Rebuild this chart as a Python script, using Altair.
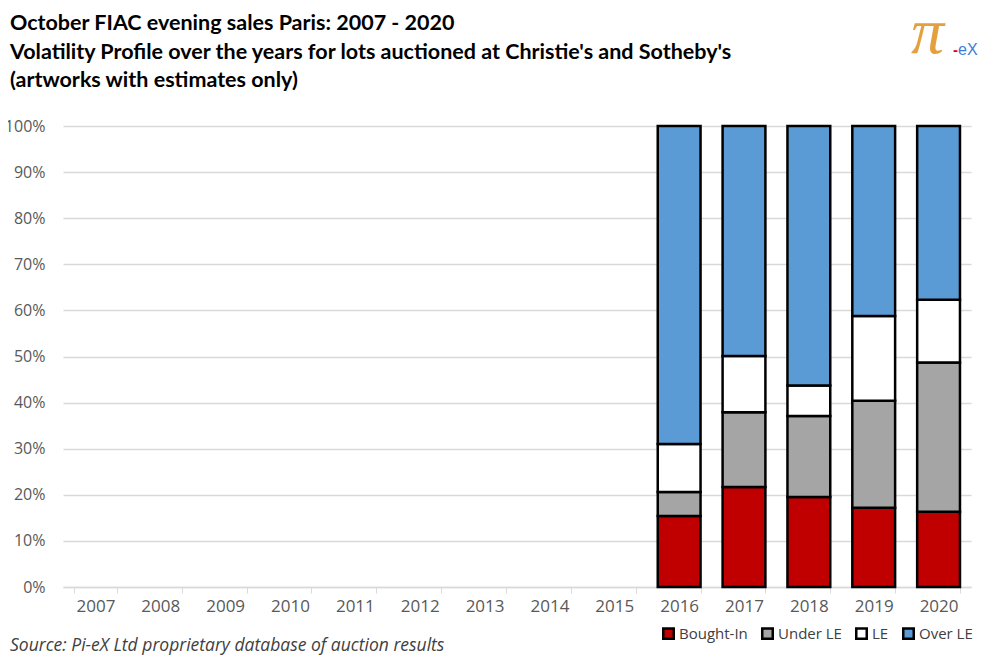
import altair as alt
import pandas as pd

years = [str(y) for y in range(2007, 2021)]
bar_years = ["2016", "2017", "2018", "2019", "2020"]
categories = ["Bought-In", "Under LE", "LE", "Over LE"]
bought_in = [15.4, 21.7, 19.5, 17.2, 16.3]
under_le = [5.2, 16.2, 17.6, 23.2, 32.4]
le = [10.4, 12.2, 6.6, 18.4, 13.6]
over_le = [69.0, 49.9, 56.3, 41.2, 37.7]
colors = ["#C00000", "#A5A5A5", "#FFFFFF", "#5B9BD5"]
y_ticks = [0.0, 0.1, 0.2, 0.3, 0.4, 0.5, 0.6, 0.7, 0.8, 0.9, 1.0]

title_lines = [
    "October FIAC evening sales Paris: 2007 - 2020",
    "Volatility Profile over the years for lots auctioned at Christie's and Sotheby's",
    "(artworks with estimates only)",
]
source_text = "Source:  Pi-eX Ltd proprietary database of auction results"

rows = []
for i, yr in enumerate(bar_years):
    for j, (cat, vals) in enumerate(zip(categories, [bought_in, under_le, le, over_le])):
        rows.append({"year": yr, "category": cat, "value": vals[i], "order": j})
df = pd.DataFrame(rows)

FONT = "Open Sans"

bars = alt.Chart(df).mark_bar(stroke="black", strokeWidth=2.5).encode(
    x=alt.X("year:N", scale=alt.Scale(domain=years, paddingInner=0.34, paddingOuter=0.17),
            axis=alt.Axis(title=None, labelAngle=0, labelFont=FONT, labelFontSize=17,
                          labelColor="#595959", domainColor="#D9D9D9", domainWidth=1.5,
                          tickColor="#D9D9D9", tickSize=6, tickBand="extent", labelPadding=5)),
    y=alt.Y("value:Q", stack="normalize", scale=alt.Scale(domain=[0, 1], nice=False),
            axis=alt.Axis(title=None, format=".0%", values=y_ticks, labelOverlap=False,
                          labelFont=FONT, labelFontSize=16, labelColor="#595959",
                          domain=False, ticks=False, gridColor="#D9D9D9", gridWidth=1.5,
                          labelPadding=18)),
    color=alt.Color("category:N", scale=alt.Scale(domain=categories, range=colors),
                    legend=alt.Legend(title=None, orient="none", direction="horizontal",
                                      legendX=598, legendY=500, symbolType="square",
                                      symbolSize=110, symbolStrokeColor="black",
                                      symbolStrokeWidth=2.5, symbolOpacity=1,
                                      labelFont=FONT, labelFontSize=15, labelColor="#404040",
                                      columnPadding=9, labelOffset=3)),
    order=alt.Order("order:Q"),
)

one = pd.DataFrame({"k": [0]})

title = alt.Chart(one).mark_text(align="left", baseline="alphabetic", font="Lato",
                                  fontWeight="bold", fontSize=21.5, lineHeight=28.5,
                                  color="black").encode(
    x=alt.value(-53), y=alt.value(-96), text=alt.value(title_lines))

source = alt.Chart(one).mark_text(align="left", baseline="alphabetic", font=FONT,
                                   fontStyle="italic", fontSize=17.5, color="#404040").encode(
    x=alt.value(-53), y=alt.value(525), text=alt.value(source_text))

pi = alt.Chart(one).mark_text(align="left", baseline="alphabetic", font="Liberation Serif",
                               fontStyle="italic", fontSize=66, color="#E3A03C").encode(
    x=alt.value(848), y=alt.value(-73), text=alt.value("π"))
dash = alt.Chart(one).mark_text(align="left", baseline="alphabetic", font="Liberation Sans",
                                 fontSize=15, fontWeight="bold", color="#E00000").encode(
    x=alt.value(890), y=alt.value(-71), text=alt.value("-"))
ex = alt.Chart(one).mark_text(align="left", baseline="alphabetic", font="Liberation Sans",
                               fontSize=16, color="#3B7DDD").encode(
    x=alt.value(895), y=alt.value(-71), text=alt.value("eX"))

chart = alt.layer(bars, title, source, pi, dash, ex).properties(
    width=908, height=461,
    autosize=alt.AutoSizeParams(type="none"),
    padding={"left": 55, "top": 118, "right": 21, "bottom": 69},
    background="white",
).configure_view(stroke=None)

chart.save("out.html", embed_options={"renderer": "svg", "actions": False})
